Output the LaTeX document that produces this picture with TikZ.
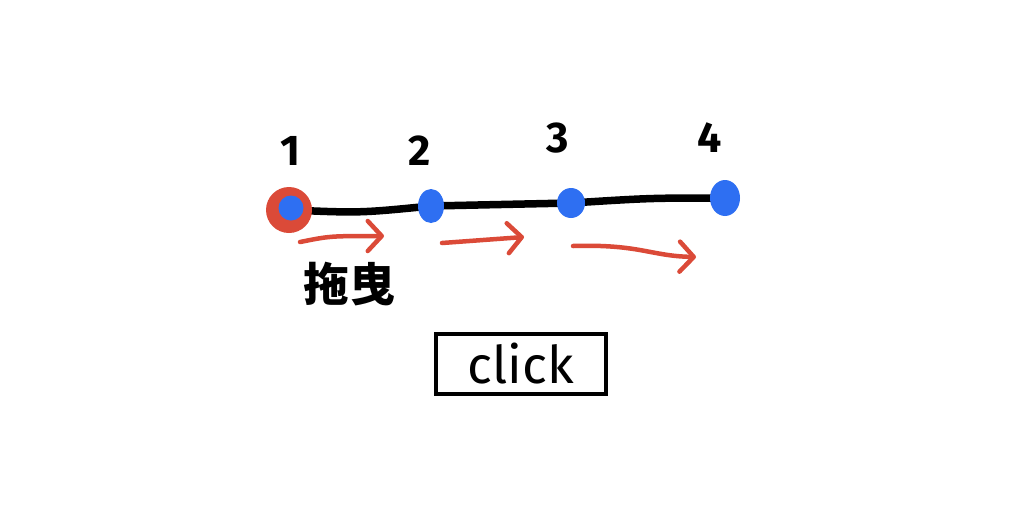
\documentclass[tikz,border=0pt]{standalone}
\usepackage{fontspec}
\setsansfont{Fira Sans}
\newfontfamily\cjk{Noto Sans CJK SC}
\usetikzlibrary{arrows.meta,shapes.geometric}
\definecolor{dotred}{HTML}{DB4A38}
\definecolor{dotblue}{HTML}{2E6FF2}
\tikzset{
  dot/.style={draw=none,fill=dotblue,ellipse,inner sep=0pt},
  digit/.style={font=\sffamily\bfseries\fontsize{43}{43}\selectfont,inner sep=0pt},
  track/.style={line width=7.5pt,line cap=round,line join=round,black},
  redarrow/.style={draw=dotred,line width=4.5pt,line cap=round,-{Straight Barb[length=14pt,width=30pt,line width=4.5pt,round]}},
}
\begin{document}
\begin{tikzpicture}[x=1pt,y=-1pt]
\useasboundingbox[fill=white] (0,0) rectangle (1024,504);
% track coordinates
\coordinate (c1) at (290,210);
\coordinate (c2) at (431,206);
\coordinate (c3) at (571,203);
\coordinate (c4) at (725,198);
\draw[track] (c1) .. controls (360,213) .. (c2) -- (c3) .. controls (650,198) .. (c4);
% dots
\node[circle,fill=dotred,minimum size=46pt,inner sep=0pt] (r1) at (289,210) {};
\node[dot,minimum width=25pt,minimum height=25pt] (d1) at (291,208) {};
\node[dot,minimum width=26pt,minimum height=34pt] (d2) at (c2) {};
\node[dot,minimum width=28pt,minimum height=30pt] (d3) at (c3) {};
\node[dot,minimum width=30pt,minimum height=36pt] (d4) at (c4) {};
% labels
\node[digit] (l1) at (290,151) {1};
\node[digit] (l2) at (420,151) {2};
\node[digit] (l3) at (558,138) {3};
\node[digit] (l4) at (710,138) {4};
% arrows
\coordinate (a1s) at (300,242);
\coordinate (a1e) at (384,236);
\coordinate (a2s) at (442,243);
\coordinate (a2e) at (524,237);
\coordinate (a3s) at (573,246);
\coordinate (a3e) at (696,257);
\draw[redarrow] (a1s) .. controls (330,236) .. (a1e);
\draw[redarrow] (a2s) -- (a2e);
\draw[redarrow] (a3s) .. controls (640,244) and (650,256) .. (a3e);
% drag label
\node[font=\cjk\bfseries\fontsize{46}{46}\selectfont,inner sep=0pt] (drag) at (349,284) {拖曳};
% click button
\node[draw=black,line width=4pt,minimum width=170pt,minimum height=60pt,inner sep=0pt,
      font=\sffamily\fontsize{52}{52}\selectfont] (click) at (521,364) {click};
\end{tikzpicture}
\end{document}
